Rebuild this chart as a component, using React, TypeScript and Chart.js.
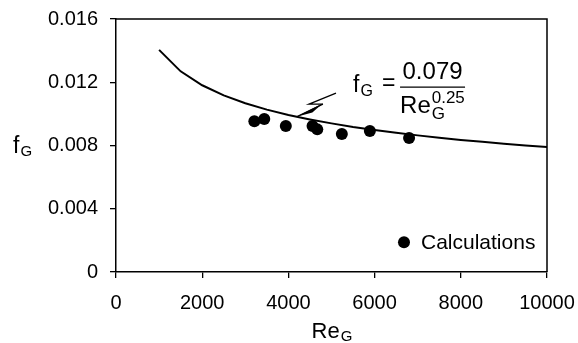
import React, { useEffect, useRef } from "react";
import { Chart, registerables } from "chart.js";

Chart.register(...registerables);

// Correlation curve f_G = 0.079 / Re_G^0.25
const curveRe = [1000, 1500, 2000, 2500, 3000, 3500, 4000, 4500, 5000, 5500, 6000, 6500, 7000, 7500, 8000, 8500, 9000, 9500, 10000];
const curveF = [0.01405, 0.01269, 0.01181, 0.01117, 0.01067, 0.01027, 0.00993, 0.00965, 0.0094, 0.00917, 0.00898, 0.0088, 0.00864, 0.00849, 0.00835, 0.00823, 0.00811, 0.008, 0.0079];

// Calculated points
const calcRe = [3210, 3440, 3940, 4560, 4670, 5240, 5890, 6800];
const calcF = [0.00954, 0.00967, 0.00924, 0.00924, 0.00902, 0.00872, 0.00891, 0.00847];

const xTicks = [0, 2000, 4000, 6000, 8000, 10000];
const yTicks = [0, 0.004, 0.008, 0.012, 0.016];

const legendLabel = "Calculations";

const FONT = "'Liberation Sans', Arial, sans-serif";

const drawSubText = (
  ctx: CanvasRenderingContext2D,
  main: string,
  sub: string,
  x: number,
  y: number,
  mainSize: number,
  subSize: number,
  subDrop: number,
  align: "left" | "center" = "left"
) => {
  ctx.font = `${mainSize}px ${FONT}`;
  const w1 = ctx.measureText(main).width;
  ctx.font = `${subSize}px ${FONT}`;
  const w2 = ctx.measureText(sub).width;
  const sx = align === "center" ? x - (w1 + w2) / 2 : x;
  ctx.textAlign = "left";
  ctx.textBaseline = "alphabetic";
  ctx.font = `${mainSize}px ${FONT}`;
  ctx.fillText(main, sx, y);
  ctx.font = `${subSize}px ${FONT}`;
  ctx.fillText(sub, sx + w1 + 1, y + subDrop);
  return w1 + w2 + 1;
};

const decorPlugin = {
  id: "decor",
  afterDraw(chart: any) {
    const { ctx, chartArea, scales } = chart;
    const xs = scales.x;
    const ys = scales.y;
    ctx.save();
    ctx.fillStyle = "#000";
    ctx.strokeStyle = "#000";

    // frame top & right
    ctx.lineWidth = 1.5;
    ctx.beginPath();
    ctx.moveTo(chartArea.left, chartArea.top);
    ctx.lineTo(chartArea.right, chartArea.top);
    ctx.lineTo(chartArea.right, chartArea.bottom);
    ctx.stroke();

    // axis titles
    drawSubText(ctx, "Re", "G", (chartArea.left + chartArea.right) / 2, chartArea.bottom + 66, 22, 15, 3, "center");
    drawSubText(ctx, "f", "G", 13, ys.getPixelForValue(0.008) + 7, 23, 15, 3);

    // equation
    const ex = xs.getPixelForValue(5500);
    const ey = ys.getPixelForValue(0.01138);
    const wf = drawSubText(ctx, "f", "G", ex, ey, 23, 16, 4);
    ctx.font = `23px ${FONT}`;
    ctx.textAlign = "left";
    ctx.fillText("=", ex + wf + 9, ey - 2);
    const fl = ex + 47;
    const fr = ex + 112;
    const fy = ey - 5;
    ctx.lineWidth = 1.3;
    ctx.beginPath();
    ctx.moveTo(fl, fy);
    ctx.lineTo(fr, fy);
    ctx.stroke();
    ctx.font = `24px ${FONT}`;
    ctx.textAlign = "center";
    ctx.fillText("0.079", (fl + fr) / 2, fy - 8);
    ctx.textAlign = "left";
    ctx.font = `24px ${FONT}`;
    ctx.fillText("Re", fl, fy + 26);
    const wRe = ctx.measureText("Re").width;
    ctx.font = `17px ${FONT}`;
    ctx.fillText("0.25", fl + wRe + 1, fy + 16);
    ctx.fillText("G", fl + wRe + 1, fy + 32);

    // lightning arrow
    const p = (vx: number, vy: number) => [xs.getPixelForValue(vx), ys.getPixelForValue(vy)];
    const [ax, ay] = p(5104, 0.01131);
    const [bx, by] = p(4478, 0.01062);
    const [cx, cy] = p(4800, 0.01062);
    const [dx, dy] = p(4190, 0.00982);
    ctx.lineWidth = 1.3;
    ctx.beginPath();
    ctx.moveTo(ax, ay);
    ctx.lineTo(bx, by);
    ctx.lineTo(cx, cy);
    ctx.stroke();
    const ang = Math.atan2(dy - cy, dx - cx);
    const nx = -Math.sin(ang);
    const ny = Math.cos(ang);
    ctx.beginPath();
    ctx.moveTo(cx + nx * 0.6, cy + ny * 0.6);
    ctx.lineTo(dx, dy);
    ctx.lineTo(cx + (dx - cx) * 0.45 - nx * 3, cy + (dy - cy) * 0.45 - ny * 3);
    ctx.closePath();
    ctx.fill();
    ctx.beginPath();
    ctx.moveTo(cx, cy);
    ctx.lineTo(dx, dy);
    ctx.stroke();

    // legend
    const lx = xs.getPixelForValue(6682);
    const ly = ys.getPixelForValue(0.00188);
    ctx.beginPath();
    ctx.arc(lx, ly, 6, 0, Math.PI * 2);
    ctx.fill();
    ctx.font = `21px ${FONT}`;
    ctx.textAlign = "left";
    ctx.textBaseline = "middle";
    ctx.fillText(legendLabel, lx + 17, ly + 1);

    ctx.restore();
  },
};

export default function App() {
  const ref = useRef<HTMLCanvasElement | null>(null);
  useEffect(() => {
    if (!ref.current) return;
    Chart.defaults.font.family = FONT;
    const chart = new Chart(ref.current, {
      type: "scatter",
      data: {
        datasets: [
          {
            type: "line",
            label: "fit",
            data: curveRe.map((x, i) => ({ x, y: curveF[i] })),
            borderColor: "#000",
            borderWidth: 2,
            pointRadius: 0,
            tension: 0,
            fill: false,
          } as any,
          {
            type: "scatter",
            label: legendLabel,
            data: calcRe.map((x, i) => ({ x, y: calcF[i] })),
            backgroundColor: "#000",
            borderColor: "#000",
            pointRadius: 6,
            pointBorderWidth: 0,
          },
        ],
      },
      options: {
        animation: false,
        responsive: false,
        maintainAspectRatio: false,
        layout: { padding: { left: 0, top: 19, right: 31, bottom: 0 } },
        plugins: { legend: { display: false }, tooltip: { enabled: false } },
        scales: {
          x: {
            type: "linear",
            min: 0,
            max: 10000,
            afterBuildTicks: (s: any) => {
              s.ticks = xTicks.map((v) => ({ value: v }));
            },
            afterFit: (s: any) => {
              s.height = 71;
              s.paddingLeft = 0;
              s.paddingRight = 0;
            },
            ticks: {
              color: "#000",
              font: { size: 20 },
              padding: 13,
              callback: (v: any) => String(v),
            },
            grid: { drawOnChartArea: false, drawTicks: true, tickLength: 6, color: "#000", lineWidth: 1.3 },
            border: { display: true, color: "#000", width: 1.5 },
          },
          y: {
            type: "linear",
            min: 0,
            max: 0.016,
            afterBuildTicks: (s: any) => {
              s.ticks = yTicks.map((v) => ({ value: v }));
            },
            afterFit: (s: any) => {
              s.width = 116;
              s.paddingTop = 0;
              s.paddingBottom = 0;
            },
            ticks: {
              color: "#000",
              font: { size: 20 },
              padding: 12,
              callback: (v: any) => (v === 0 ? "0" : Number(v).toFixed(3)),
            },
            grid: { drawOnChartArea: false, drawTicks: true, tickLength: 6, color: "#000", lineWidth: 1.3 },
            border: { display: true, color: "#000", width: 1.5 },
          },
        },
      },
      plugins: [decorPlugin],
    });
    return () => chart.destroy();
  }, []);
  return (
    <div style={{ position: "fixed", left: 0, top: 0, width: 578, height: 343, background: "#fff" }}>
      <canvas ref={ref} width={578} height={343} style={{ display: "block" }} />
    </div>
  );
}
